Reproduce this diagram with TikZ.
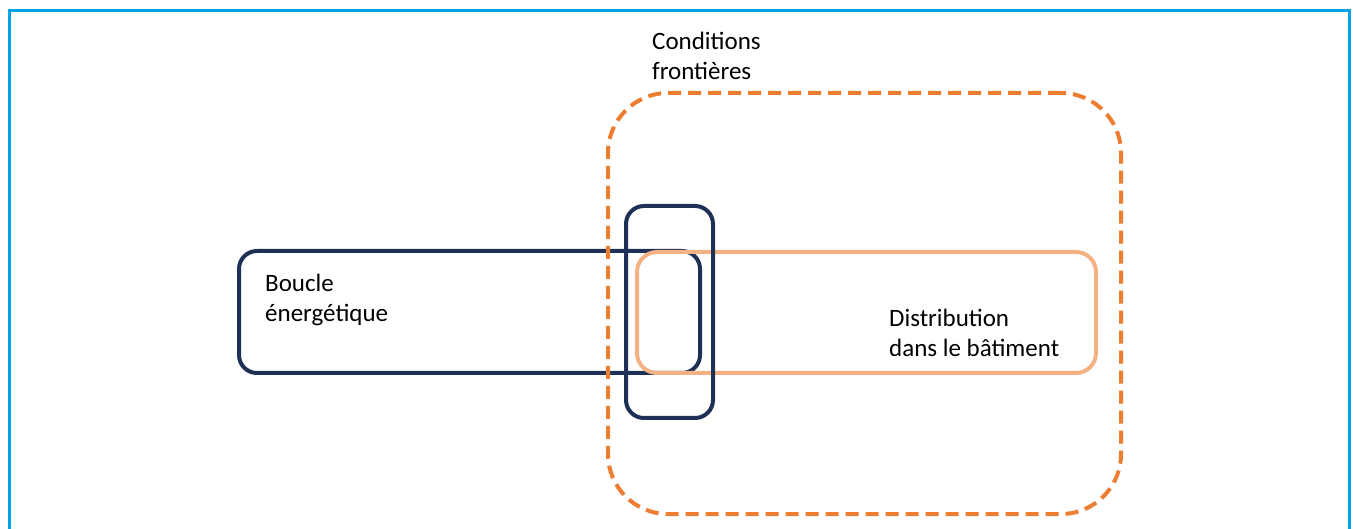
\documentclass[tikz,border=0pt]{standalone}
\usepackage{fontspec}
\setmainfont{Carlito}
\usetikzlibrary{positioning}
\definecolor{bleuCadre}{HTML}{00A3E6}
\definecolor{marine}{HTML}{1F3057}
\definecolor{orangeVif}{HTML}{ED7D31}
\definecolor{orangePale}{HTML}{F4B183}

\begin{document}
\begin{tikzpicture}[
    x=1pt, y=-1pt,
    boite/.style={rectangle, rounded corners=18pt, line width=4pt, inner sep=0pt},
    tirets/.style={rectangle, rounded corners=60pt, draw=orangeVif, line width=4pt,
                   dash pattern=on 13pt off 7pt, inner sep=0pt},
    texte/.style={anchor=base west, align=left, inner sep=0pt,
                  font=\fontsize{25}{30}\selectfont}
  ]
  \useasboundingbox (0,0) rectangle (1353,529);
  % cadre bleu autour de la figure
  \draw[bleuCadre, line width=3pt] (9,545) |- (1349,11) -- (1349,545);

  % les trois boucles
  \node[boite, draw=marine, minimum width=461pt, minimum height=122pt] (boucle) at (469.5,312) {};
  \node[boite, draw=orangePale, rounded corners=20pt, minimum width=459pt, minimum height=121pt] (distrib) at (866.5,312.5) {};
  \node[boite, draw=marine, minimum width=87pt, minimum height=212pt] (echange) at (669.5,312) {};

  % limite du domaine
  \node[tirets, minimum width=513pt, minimum height=421pt] (limites) at (864.5,303.5) {};

  % textes (ancre sur la ligne du bas)
  \node[texte] (tBoucle) at (265,322) {Boucle\\énergétique};
  \node[texte] (tDistrib) at (889,357) {Distribution\\dans le bâtiment};
  \node[texte] (tCond) at (652,80) {Conditions\\frontières};
\end{tikzpicture}
\end{document}
